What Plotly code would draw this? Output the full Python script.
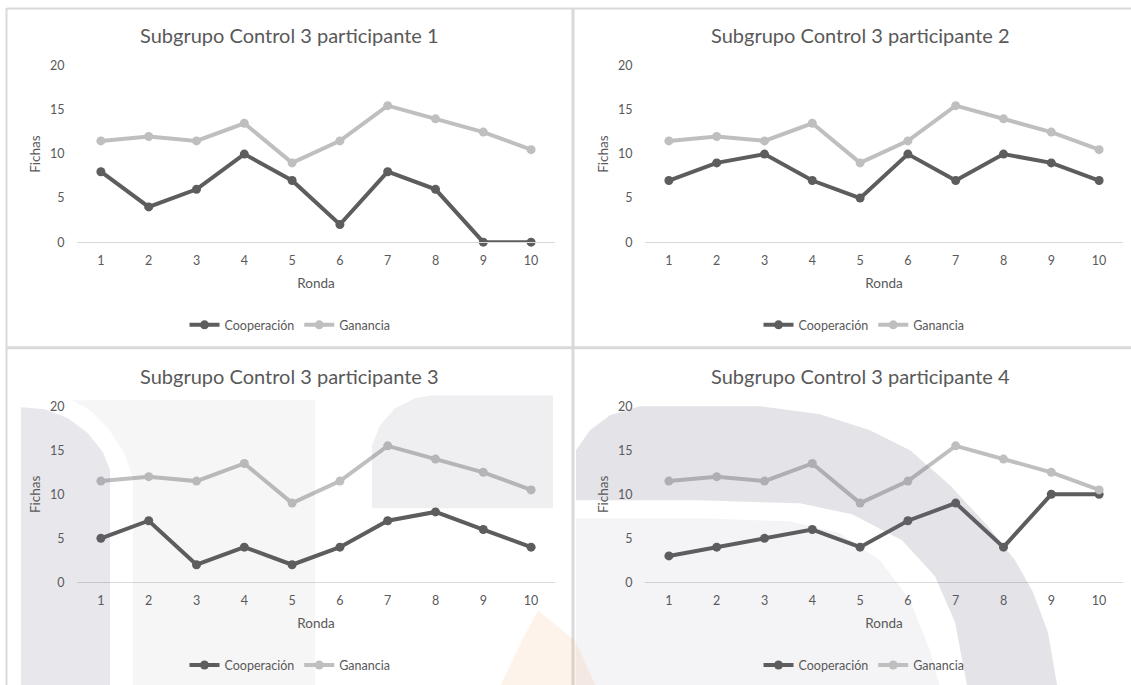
import plotly.graph_objects as go

# page layout constants (window pixels are mapped onto the figure box)
W, H = 1131, 701
OFF_Y, SCALE_Y = 8.0, 0.978

# ---- data -------------------------------------------------------------
rondas = [1, 2, 3, 4, 5, 6, 7, 8, 9, 10]
ganancia = [11.5, 12, 11.5, 13.5, 9, 11.5, 15.5, 14, 12.5, 10.5]
coop_p1 = [8, 4, 6, 10, 7, 2, 8, 6, 0, 0]
coop_p2 = [7, 9, 10, 7, 5, 10, 7, 10, 9, 7]
coop_p3 = [5, 7, 2, 4, 2, 4, 7, 8, 6, 4]
coop_p4 = [3, 4, 5, 6, 4, 7, 9, 4, 10, 10]
titulos = [
    "Subgrupo Control 3 participante 1",
    "Subgrupo Control 3 participante 2",
    "Subgrupo Control 3 participante 3",
    "Subgrupo Control 3 participante 4",
]
y_ticks = [0, 5, 10, 15, 20]

# ---- styling ----------------------------------------------------------
FONT = "Lato"
TXT = "#595959"
C_COOP = "#5d5d5d"
C_GAN = "#bfbfbf"
FRAME = "#d9d9d9"


def px(x):
    return x / W


def py(y):
    return 1 - ((y - OFF_Y) / SCALE_Y) / H


def path(points):
    return "M " + " L ".join(f"{px(x):.5f},{py(y):.5f}" for x, y in points) + " Z"


# panel geometry in window pixels: plot left/right, y of 0 and 20, title, legend
panels = [
    dict(x0=77, x1=555, y0=242, y20=66, tx=289, ty=35, lx=290, ly=325),
    dict(x0=645, x1=1123, y0=242, y20=66, tx=860, ty=35, lx=864, ly=325),
    dict(x0=77, x1=555, y0=582, y20=406, tx=289, ty=376, lx=290, ly=665),
    dict(x0=645, x1=1123, y0=582, y20=406, tx=860, ty=376, lx=864, ly=665),
]
coop_series = [coop_p1, coop_p2, coop_p3, coop_p4]

fig = go.Figure()
layout = dict(
    width=W, height=H,
    margin=dict(l=0, r=0, t=0, b=0),
    paper_bgcolor="white", plot_bgcolor="rgba(0,0,0,0)",
    font=dict(family=FONT, color=TXT),
    showlegend=True,
    annotations=[], shapes=[],
)

for i, (p, coop) in enumerate(zip(panels, coop_series), start=1):
    sfx = "" if i == 1 else str(i)
    leg = "legend" if i == 1 else f"legend{i}"
    fig.add_trace(go.Scatter(
        x=rondas, y=coop, name="Cooperación", mode="lines+markers",
        line=dict(color=C_COOP, width=4), marker=dict(size=9, color=C_COOP),
        xaxis="x" + sfx, yaxis="y" + sfx, legend=leg, cliponaxis=False,
    ))
    fig.add_trace(go.Scatter(
        x=rondas, y=ganancia, name="Ganancia", mode="lines+markers",
        line=dict(color=C_GAN, width=4), marker=dict(size=9, color=C_GAN),
        xaxis="x" + sfx, yaxis="y" + sfx, legend=leg, cliponaxis=False,
    ))
    layout["xaxis" + sfx] = dict(
        domain=[px(p["x0"]), px(p["x1"])], anchor="y" + sfx,
        range=[0.5, 10.5], tickvals=rondas, ticktext=[str(r) for r in rondas],
        showgrid=False, zeroline=False, showline=True, linecolor=FRAME, linewidth=1,
        ticks="outside", ticklen=7, tickcolor="rgba(0,0,0,0)",
        tickfont=dict(size=12.5, color=TXT, family=FONT),
        title=dict(text="Ronda", font=dict(size=13.5, color=TXT, family=FONT), standoff=11),
        fixedrange=True,
    )
    layout["yaxis" + sfx] = dict(
        domain=[py(p["y0"]), py(p["y20"])], anchor="x" + sfx,
        range=[0, 20], tickvals=y_ticks,
        showgrid=False, zeroline=False, showline=False,
        ticks="outside", ticklen=9, tickcolor="rgba(0,0,0,0)",
        tickfont=dict(size=12.5, color=TXT, family=FONT),
        title=dict(text="Fichas", font=dict(size=13.5, color=TXT, family=FONT), standoff=6),
        fixedrange=True,
    )
    layout[leg] = dict(
        orientation="h", x=px(p["lx"]), y=py(p["ly"]),
        xanchor="center", yanchor="middle",
        font=dict(size=12.5, color=TXT, family=FONT),
        bgcolor="rgba(0,0,0,0)", itemwidth=30, tracegroupgap=0,
    )
    layout["annotations"].append(dict(
        text=titulos[i - 1], x=px(p["tx"]), y=py(p["ty"]),
        xref="paper", yref="paper", xanchor="center", yanchor="middle",
        showarrow=False, font=dict(size=20, color=TXT, family=FONT),
    ))

# ---- chart frames -----------------------------------------------------
frame_lines = [
    ((7, 8.5), (1131, 8.5), 2),
    ((6.5, 8), (6.5, 690), 2),
    ((573, 8), (573, 690), 3),
    ((7, 347.5), (1131, 347.5), 3),
]
for (xa, ya), (xb, yb), w in frame_lines:
    layout["shapes"].append(dict(
        type="line", xref="paper", yref="paper",
        x0=px(xa), y0=py(ya), x1=px(xb), y1=py(yb),
        line=dict(color=FRAME, width=w), layer="above",
    ))

# ---- faint background emblem over the lower charts ---------------------
GREY = "100,100,125"
emblem = [
    # left panel: dark vertical band with rounded top
    ([(21, 407), (45, 409), (68, 418), (88, 433), (103, 452), (110, 470),
      (110, 690), (21, 690)], f"rgba({GREY},0.15)"),
    # left panel: pale area with curved left edge
    ([(72, 400), (315, 400), (315, 690), (133, 690), (133, 478), (124, 452),
      (108, 428), (90, 410)], f"rgba({GREY},0.06)"),
    # left panel: pale block behind the upper right of the chart
    ([(372, 508), (372, 445), (380, 425), (395, 408), (415, 398), (432, 395),
      (553, 395), (553, 508)], f"rgba({GREY},0.10)"),
    # orange tip at the bottom centre
    ([(538, 610), (522, 640), (498, 690), (598, 690), (575, 640)],
     "rgba(250,160,80,0.12)"),
    # right panel: dark arc band
    ([(576, 450), (590, 430), (610, 415), (640, 406), (760, 406), (820, 414),
      (870, 430), (910, 450), (950, 485), (987, 525), (1015, 560), (1033, 592),
      (1048, 632), (1058, 690), (968, 690), (955, 622), (935, 576), (902, 540),
      (852, 514), (800, 503), (700, 500), (576, 500)], f"rgba({GREY},0.18)"),
    # right panel: pale interior of the arc
    ([(576, 518), (700, 518), (790, 521), (840, 533), (880, 560), (910, 600),
      (930, 650), (941, 690), (576, 690)], f"rgba({GREY},0.07)"),
]
for pts, col in emblem:
    layout["shapes"].append(dict(
        type="path", xref="paper", yref="paper", path=path(pts),
        fillcolor=col, line=dict(width=0), layer="above",
    ))

fig.update_layout(**layout)
fig.write_html("out.html", config={"displayModeBar": False})
